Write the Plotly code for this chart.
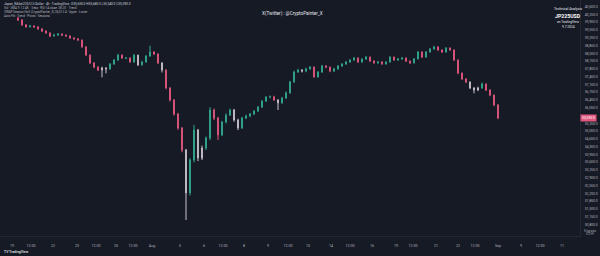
import plotly.graph_objects as go

# ---------------- data (JP225USD, 4h candles) ----------------
first_open = 40080
close = [
    40000, 39780, 39690, 39730, 39690, 39600, 39500, 39420, 39280, 39320,
    39370, 39320, 39280, 39190, 39150, 39100, 38790, 38420, 38070, 37880,
    37750, 37840, 37800, 38020, 38200, 38420, 38290, 38290, 38110, 38420,
    37980, 38110, 38380, 38560, 38470, 38070, 37750, 36940, 36400, 35770,
    35140, 34150, 32220, 33700, 35050, 33790, 34240, 34690, 35950, 35590,
    34830, 35410, 35720, 35950, 35500, 35140, 35590, 35680, 35770, 35900,
    36080, 36350, 36530, 36540, 36400, 36270, 36490, 36720, 37210, 37660,
    37750, 37700, 37800, 37880, 37440, 37660, 37930, 37880, 37700, 37800,
    37930, 38020, 38110, 38200, 38290, 38110, 38240, 38330, 38150, 38070,
    38110, 38020, 38110, 38330, 38200, 38250, 38290, 38150, 38070, 38250,
    38560, 38330, 38560, 38700, 38790, 38650, 38560, 38740, 38650, 38200,
    37610, 37350, 37210, 36940, 36850, 36940, 37120, 36850, 36620, 36180,
    35590,
]
high = [
    40150, 40040, 39820, 39780, 39760, 39720, 39640, 39540, 39450, 39380,
    39410, 39400, 39350, 39310, 39230, 39190, 39120, 38820, 38450, 38100,
    37920, 37900, 37880, 38060, 38240, 38480, 38450, 38330, 38320, 38460,
    38440, 38160, 38420, 38840, 38600, 38500, 38100, 37780, 36980, 36440,
    35820, 35180, 34200, 33780, 35280, 35100, 34350, 34760, 36080, 36020,
    35640, 35460, 35800, 36010, 36000, 35560, 35640, 35740, 35820, 35950,
    36130, 36400, 36580, 36600, 36590, 36440, 36540, 36780, 37260, 37720,
    37800, 37790, 37850, 37930, 37910, 37700, 37980, 37970, 37910, 37850,
    37970, 38060, 38150, 38240, 38330, 38320, 38280, 38380, 38360, 38190,
    38150, 38150, 38150, 38370, 38360, 38290, 38330, 38320, 38180, 38290,
    38610, 38590, 38600, 38740, 38840, 38820, 38680, 38780, 38770, 38680,
    38230, 37640, 37380, 37240, 36980, 37000, 37190, 37150, 36880, 36650,
    36210,
]
low = [
    39950, 39740, 39650, 39660, 39640, 39560, 39460, 39380, 39230, 39250,
    39290, 39280, 39240, 39150, 39110, 39060, 38750, 38380, 38020, 37830,
    37700, 37420, 37600, 37760, 37980, 38160, 38250, 38240, 38070, 38080,
    37930, 37950, 38080, 38340, 38420, 38020, 37640, 36880, 36330, 35700,
    35060, 34050, 31000, 32100, 33600, 33650, 33700, 34150, 34600, 35500,
    34600, 34780, 35350, 35680, 35420, 35050, 35100, 35540, 35630, 35720,
    35860, 36040, 36310, 36480, 36360, 35950, 36230, 36450, 36680, 37180,
    37620, 37640, 37650, 37760, 37400, 37400, 37620, 37830, 37650, 37660,
    37760, 37890, 37980, 38070, 38160, 38070, 38080, 38200, 38110, 38030,
    38030, 37980, 37990, 38080, 38160, 38160, 38210, 38110, 38020, 38040,
    38220, 38290, 38300, 38530, 38660, 38610, 38520, 38530, 38610, 38160,
    37560, 37300, 37160, 36890, 36700, 36800, 36900, 36800, 36570, 36120,
    35540,
]
# candles drawn in the neutral grey tone on the reference
grey_idx = [21, 22, 30, 36, 42, 45, 46, 54, 55, 65, 71, 113, 114, 115]

x_tick_pos = [-1.5, 3.25, 8.75, 14.75, 19.5, 24.5, 28.75, 33.5, 40.5, 46.5, 51.25,
              56.5, 62.5, 67.5, 72.5, 78.25, 83, 88.5, 94.5, 98.75, 104.5, 110,
              114.25, 120, 125.75, 130.5, 136]
x_tick_text = ["19", "12:00", "22", "23", "12:00", "25", "12:00", "Aug", "5", "6", "12:00",
               "8", "9", "12:00", "13", "14", "12:00", "16", "19", "12:00", "21", "22",
               "12:00", "Sep", "9", "12:00", "11"]

# price-axis labels (every 350 points), as on the reference's right scale
y_tick_vals = [30800, 31150, 31500, 31850, 32200, 32550, 32900, 33250, 33600, 33950,
               34300, 34650, 35000, 35350, 35700, 36050, 36400, 36750, 37100, 37450,
               37800, 38150, 38500, 38850, 39200, 39550, 39900, 40250, 40600]

symbol = "JP225USD"
last_price = close[-1]

# ---------------- build ----------------
opens = [first_open] + close[:-1]
n = len(close)

BG = "#161a25"
TEAL = "#33a88f"
PINK = "#e2577f"
GREY = "#c9c1cb"
TXT = "#b2b5be"


def subset(idxs):
    return dict(
        x=[i for i in idxs],
        open=[opens[i] for i in idxs],
        high=[high[i] for i in idxs],
        low=[low[i] for i in idxs],
        close=[close[i] for i in idxs],
    )


gset = set(grey_idx)
up_idx = [i for i in range(n) if i not in gset and close[i] >= opens[i]]
dn_idx = [i for i in range(n) if i not in gset and close[i] < opens[i]]

fig = go.Figure()
for idxs, col in ((up_idx, TEAL), (dn_idx, PINK), (grey_idx, GREY)):
    fig.add_trace(go.Candlestick(
        **subset(idxs),
        increasing=dict(line=dict(color=col, width=1), fillcolor=col),
        decreasing=dict(line=dict(color=col, width=1), fillcolor=col),
        whiskerwidth=0,
        showlegend=False,
        hoverinfo="skip",
    ))

W, H = 600, 256
ML, MR, MT, MB = 0, 20, 0, 20
PW, PH = W - ML - MR, H - MT - MB


def px(xp):
    return (xp - ML) / PW


def py(yp):
    return (MT + PH - yp) / PH


annotations = []


def txt(x, y, s, size=3.5, color=TXT, anchor="left", bold=False, bg=None):
    if bold:
        s = "<b>" + s + "</b>"
    a = dict(x=px(x), y=py(y), xref="paper", yref="paper", text=s, showarrow=False,
             xanchor=anchor, yanchor="middle",
             font=dict(family="Roboto", size=size, color=color))
    if bg:
        a["bgcolor"] = bg
    annotations.append(a)


# top-left legend
txt(2, 4, "Japan_Nikkei225/U.S.Dollar · 4h · TradingView  O35,650.0 H35,680.0 L35,540.0 C35,590.0", size=3.2, color="#d1d4dc")
txt(2, 8, "Vol · SMA 9  12.4K  · Sess · RSI 14 close  38.20  · Trend", size=3.0)
txt(2, 12, "VWAP Session hlc3 (CryptoPainter_X) 36,012.4 · Upper · Lower", size=3.0)
txt(2, 16, "Auto Fib · Trend · Pivots · Sessions", size=3.0)
# centre title
txt(292, 14, "X(Twitter) : @CryptoPainter_X", size=4.6, color="#e6e8ee", anchor="center")
# top-right block
txt(568, 9, "Technical Analysis", size=3.4, color="#e6e8ee", anchor="center")
txt(568, 16, symbol, size=5.2, color="#ffffff", anchor="center", bold=True)
txt(568, 22, "on TradingView", size=3.2, color="#e6e8ee", anchor="center")
txt(568, 27, "9.7.2024", size=3.2, color="#e6e8ee", anchor="center")
# bottom left logo, bottom right small controls
txt(2, 252, "TV TradingView", size=3.4, color="#d1d4dc", bold=True)
txt(590, 230.5, "% log auto", size=2.6, anchor="center")
txt(590, 234, "UTC+9", size=2.6, anchor="center")

# current price tag on the axis
annotations.append(dict(
    x=1.0, y=last_price, xref="paper", yref="y", text=f"{last_price:,.1f}",
    showarrow=False, xanchor="left", yanchor="middle", bgcolor=PINK, borderpad=1,
    font=dict(family="Roboto", size=3.4, color="#ffffff"),
))

# hide axis labels that would sit under the price tag (as TradingView does)
shown_ticks = [v for v in y_tick_vals if abs(v - last_price) > 200]

fig.update_layout(
    width=W, height=H,
    margin=dict(l=ML, r=MR, t=MT, b=MB),
    paper_bgcolor=BG, plot_bgcolor=BG,
    boxgap=0.72,
    annotations=annotations,
    xaxis=dict(
        range=[-4.5, 140.5], rangeslider=dict(visible=False),
        tickmode="array", tickvals=x_tick_pos, ticktext=x_tick_text,
        tickfont=dict(family="Roboto", size=3.6, color=TXT),
        showgrid=False, zeroline=False, showline=True, linecolor="#232734",
        ticks="", ticklabelstandoff=6,
    ),
    yaxis=dict(
        side="right", range=[30280, 40900],
        tickmode="array", tickvals=shown_ticks,
        ticktext=[f"{v:,.1f}" for v in shown_ticks],
        tickfont=dict(family="Roboto", size=3.4, color=TXT),
        showgrid=False, zeroline=False, showline=True, linecolor="#232734",
        ticks="", ticklabelstandoff=3,
    ),
    font=dict(family="Roboto"),
)

fig.write_html("out.html")
